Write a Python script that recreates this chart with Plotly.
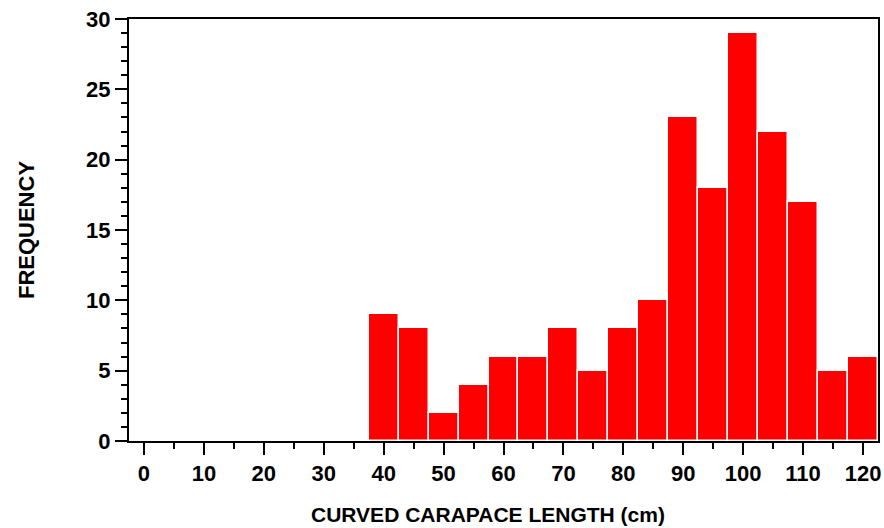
import plotly.graph_objects as go

bin_centers = [40, 45, 50, 55, 60, 65, 70, 75, 80, 85, 90, 95, 100, 105, 110, 115, 120]
frequency = [9, 8, 2, 4, 6, 6, 8, 5, 8, 10, 23, 18, 29, 22, 17, 5, 6]
x_ticks = [0, 10, 20, 30, 40, 50, 60, 70, 80, 90, 100, 110, 120]
y_ticks = [0, 5, 10, 15, 20, 25, 30]

FONT = "Liberation Sans, Arial, Helvetica, sans-serif"

fig = go.Figure(go.Bar(
    x=bin_centers, y=frequency, width=5,
    marker=dict(color="#ff0000", line=dict(color="white", width=1.5)),
))

fig.update_layout(
    width=884, height=528,
    margin=dict(l=129, r=6, t=19, b=87),
    plot_bgcolor="white", paper_bgcolor="white",
    showlegend=False, bargap=0,
    font=dict(family=FONT, size=21, color="black"),
)

fig.update_xaxes(
    range=[-2.5, 122.5], tickvals=x_ticks, automargin=False,
    ticks="outside", ticklen=12, tickwidth=2, tickcolor="black",
    minor=dict(dtick=5, tick0=0, ticks="outside", ticklen=6, tickwidth=2, tickcolor="black"),
    showline=True, linecolor="black", linewidth=2, mirror=True,
    showgrid=False, zeroline=False,
    tickfont=dict(family=FONT, size=22, color="black", weight="bold"),
)
fig.update_yaxes(
    range=[0, 30], tickvals=y_ticks, automargin=False,
    ticks="outside", ticklen=12, tickwidth=2, tickcolor="black",
    minor=dict(dtick=1, tick0=0, ticks="outside", ticklen=6, tickwidth=2, tickcolor="black"),
    showline=True, linecolor="black", linewidth=2, mirror=True,
    showgrid=False, zeroline=False,
    tickfont=dict(family=FONT, size=22, color="black", weight="bold"),
    title=dict(text="<b>FREQUENCY</b>", font=dict(family=FONT, size=22), standoff=45),
)

fig.add_annotation(text="<b>CURVED CARAPACE LENGTH (cm)</b>", xref="paper", yref="paper",
                   x=(488 - 129) / 749, y=(441 - 514) / 422, xanchor="center", yanchor="middle",
                   showarrow=False, font=dict(family=FONT, size=21, color="black"))

# extend baseline leftwards under the y-axis outside tick
fig.add_shape(type="line", xref="paper", yref="paper", x0=-12/749, x1=0, y0=0, y1=0,
              line=dict(color="black", width=2))

fig.write_html("out.html")
